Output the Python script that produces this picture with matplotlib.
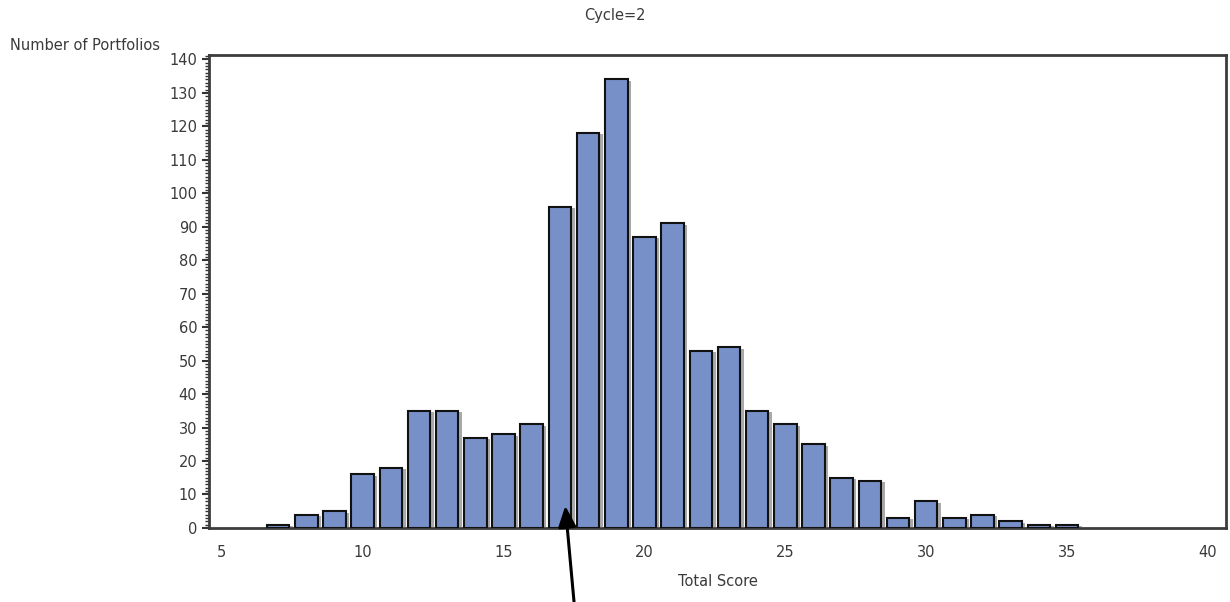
import numpy as np
import matplotlib.pyplot as plt
import matplotlib.patheffects as pe
from matplotlib.ticker import MultipleLocator

# Total score vs number of portfolios
scores = [7, 8, 9, 10, 11, 12, 13, 14, 15, 16, 17, 18, 19, 20, 21,
          22, 23, 24, 25, 26, 27, 28, 29, 30, 31, 32, 33, 34, 35]
counts = [1, 4, 5, 16, 18, 35, 35, 27, 28, 31, 96, 118, 134, 87, 91,
          53, 54, 35, 31, 25, 15, 14, 3, 8, 3, 4, 2, 1, 1]
xticks = [5, 10, 15, 20, 25, 30, 35, 40]
yticks = list(range(0, 141, 10))

plt.rcParams['font.family'] = ['DejaVu Sans']
txt = '#3a3a3a'
fs = 10.5

fig = plt.figure(figsize=(12.3, 6.02), dpi=100)
ax = fig.add_axes([0.170, 0.123, 0.827, 0.785])

bars = ax.bar(scores, counts, width=0.8, color='#7890c8', edgecolor='#111111',
              linewidth=1.5, zorder=3)
for b in bars:
    b.set_path_effects([pe.SimplePatchShadow(offset=(2.5, -1), shadow_rgbFace='#555555', alpha=0.5),
                        pe.Normal()])

ax.set_xlim(4.55, 40.65)
ax.set_ylim(0, 141.2)
ax.set_xticks(xticks)
ax.set_yticks(yticks)
ax.yaxis.set_minor_locator(MultipleLocator(1))
ax.tick_params(axis='x', length=0, pad=12, labelsize=fs, labelcolor=txt)
ax.tick_params(axis='y', which='major', length=5, width=1.5, direction='out',
               labelsize=fs, labelcolor=txt, color='#333333')
ax.tick_params(axis='y', which='minor', length=3, width=1.0, direction='out', color='#333333')
for s in ax.spines.values():
    s.set_linewidth(2)
    s.set_color('#3c3c3c')

ax.set_xlabel('Total Score', fontsize=fs, color=txt, labelpad=10)
fig.text(0.008, 0.925, 'Number of Portfolios', fontsize=fs, color=txt, ha='left', va='center')
fig.text(0.5, 0.974, 'Cycle=2', fontsize=fs, color=txt, ha='center', va='center')

# arrow pointing at the cycle's cut-off bar
ax.annotate('', xy=(17.19, 6.6), xycoords='data',
            xytext=(0.4667, 0.0), textcoords='figure fraction',
            arrowprops=dict(arrowstyle='-|>,head_length=0.7,head_width=0.3', color='black', lw=2.2,
                            mutation_scale=18, shrinkA=0, shrinkB=0),
            annotation_clip=False, zorder=5)

fig.savefig('out.png', dpi=100)
